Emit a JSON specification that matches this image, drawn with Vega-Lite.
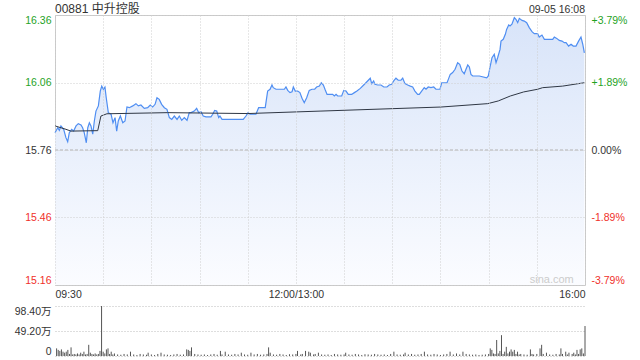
{
  "$schema": "https://vega.github.io/schema/vega-lite/v6.json",
  "background": "#ffffff",
  "padding": {"left": 4, "top": 2, "right": 13, "bottom": 4},
  "autosize": {"type": "pad"},
  "spacing": 4,
  "config": {
    "font": "Arial, Liberation Sans, Noto Sans CJK SC, sans-serif",
    "view": {"stroke": "#c8c8c8"},
    "axis": {"labelColor": "#333333", "labelFontSize": 10.5}
  },
  "datasets": {
    "price": [
      {"m":0,"p":15.837},{"m":1.7,"p":15.859},{"m":2.7,"p":15.847},{"m":3.7,"p":15.867},{"m":5.4,"p":15.852},{"m":6.8,"p":15.815},{"m":7.9,"p":15.797},{"m":8.9,"p":15.837},{"m":10.4,"p":15.852},{"m":11.6,"p":15.844},{"m":13.1,"p":15.867},{"m":14.5,"p":15.877},{"m":16.2,"p":15.871},{"m":17.2,"p":15.859},{"m":18.2,"p":15.837},{"m":19.5,"p":15.792},{"m":20.4,"p":15.859},{"m":21.4,"p":15.881},{"m":22.4,"p":15.867},{"m":23.5,"p":15.83},{"m":24.5,"p":15.889},{"m":25.5,"p":15.933},{"m":27.0,"p":15.956},{"m":28.2,"p":16.022},{"m":29.1,"p":16.044},{"m":30.1,"p":16.03},{"m":31.1,"p":16.04},{"m":31.9,"p":15.992},{"m":33.2,"p":15.926},{"m":34.9,"p":15.919},{"m":36.1,"p":15.881},{"m":37.4,"p":15.904},{"m":38.4,"p":15.844},{"m":39.4,"p":15.889},{"m":40.7,"p":15.911},{"m":42.2,"p":15.881},{"m":43.6,"p":15.889},{"m":44.8,"p":15.951},{"m":46.3,"p":15.948},{"m":48.4,"p":15.956},{"m":50.4,"p":15.966},{"m":51.9,"p":15.956},{"m":53.5,"p":15.96},{"m":55.6,"p":15.945},{"m":57.7,"p":15.948},{"m":59.3,"p":15.96},{"m":60.8,"p":15.951},{"m":62.3,"p":15.963},{"m":63.5,"p":15.992},{"m":64.9,"p":15.985},{"m":66.4,"p":15.963},{"m":68.1,"p":15.948},{"m":69.7,"p":15.941},{"m":71.2,"p":15.904},{"m":72.7,"p":15.896},{"m":74.3,"p":15.911},{"m":76.0,"p":15.896},{"m":77.4,"p":15.911},{"m":78.9,"p":15.892},{"m":80.5,"p":15.904},{"m":82.2,"p":15.892},{"m":83.6,"p":15.926},{"m":84.7,"p":15.926},{"m":86.7,"p":15.933},{"m":88.2,"p":15.945},{"m":89.5,"p":15.926},{"m":90.9,"p":15.93},{"m":92.3,"p":15.911},{"m":94.0,"p":15.907},{"m":97.1,"p":15.907},{"m":98.2,"p":15.919},{"m":99.4,"p":15.936},{"m":100.7,"p":15.933},{"m":101.9,"p":15.904},{"m":102.7,"p":15.911},{"m":104.0,"p":15.896},{"m":108.5,"p":15.896},{"m":117.2,"p":15.896},{"m":118.9,"p":15.911},{"m":120.2,"p":15.926},{"m":121.4,"p":15.919},{"m":125.1,"p":15.919},{"m":126.8,"p":15.948},{"m":130.9,"p":15.948},{"m":132.4,"p":16.022},{"m":133.9,"p":16.03},{"m":135.1,"p":16.049},{"m":135.9,"p":16.037},{"m":137.6,"p":16.03},{"m":142.8,"p":16.03},{"m":143.8,"p":16.04},{"m":144.9,"p":16.025},{"m":146.3,"p":16.015},{"m":147.6,"p":16.019},{"m":148.4,"p":16.04},{"m":149.6,"p":16.022},{"m":151.1,"p":16.022},{"m":152.5,"p":16.015},{"m":153.8,"p":15.99},{"m":155.2,"p":15.97},{"m":156.7,"p":15.992},{"m":158.3,"p":16.025},{"m":160.0,"p":16.03},{"m":161.7,"p":16.03},{"m":162.9,"p":16.04},{"m":164.6,"p":16.044},{"m":165.8,"p":16.059},{"m":167.1,"p":16.049},{"m":168.1,"p":16.03},{"m":169.4,"p":16.007},{"m":172.9,"p":16.007},{"m":173.9,"p":16.0},{"m":175.0,"p":16.007},{"m":176.0,"p":16.0},{"m":178.5,"p":16.0},{"m":179.8,"p":16.025},{"m":181.2,"p":16.022},{"m":182.6,"p":16.007},{"m":184.7,"p":16.007},{"m":186.4,"p":16.015},{"m":188.0,"p":16.022},{"m":190.1,"p":16.034},{"m":192.2,"p":16.049},{"m":193.6,"p":16.059},{"m":195.1,"p":16.07},{"m":196.3,"p":16.079},{"m":197.2,"p":16.055},{"m":198.4,"p":16.067},{"m":199.2,"p":16.052},{"m":200.9,"p":16.049},{"m":203.0,"p":16.049},{"m":204.7,"p":16.04},{"m":206.7,"p":16.04},{"m":208.1,"p":16.049},{"m":209.6,"p":16.052},{"m":210.9,"p":16.067},{"m":212.3,"p":16.079},{"m":213.7,"p":16.07},{"m":215.4,"p":16.07},{"m":216.5,"p":16.079},{"m":217.9,"p":16.055},{"m":219.6,"p":16.049},{"m":221.2,"p":16.044},{"m":222.7,"p":16.04},{"m":224.1,"p":16.022},{"m":225.8,"p":16.007},{"m":226.8,"p":16.007},{"m":228.3,"p":16.022},{"m":229.9,"p":16.037},{"m":231.0,"p":16.03},{"m":232.4,"p":16.04},{"m":234.1,"p":16.037},{"m":235.8,"p":16.04},{"m":237.2,"p":16.03},{"m":239.7,"p":16.03},{"m":240.8,"p":16.059},{"m":244.1,"p":16.059},{"m":244.9,"p":16.074},{"m":246.1,"p":16.096},{"m":247.6,"p":16.104},{"m":249.1,"p":16.119},{"m":250.7,"p":16.148},{"m":252.0,"p":16.141},{"m":253.4,"p":16.111},{"m":254.8,"p":16.099},{"m":255.9,"p":16.119},{"m":257.0,"p":16.138},{"m":258.0,"p":16.129},{"m":259.0,"p":16.096},{"m":260.1,"p":16.089},{"m":264.2,"p":16.089},{"m":268.8,"p":16.081},{"m":269.8,"p":16.089},{"m":270.8,"p":16.126},{"m":272.1,"p":16.17},{"m":273.5,"p":16.185},{"m":274.6,"p":16.148},{"m":275.6,"p":16.17},{"m":277.1,"p":16.207},{"m":277.7,"p":16.244},{"m":279.1,"p":16.252},{"m":280.4,"p":16.274},{"m":281.2,"p":16.296},{"m":282.5,"p":16.316},{"m":283.3,"p":16.311},{"m":284.5,"p":16.319},{"m":286.0,"p":16.348},{"m":287.0,"p":16.341},{"m":288.1,"p":16.326},{"m":289.1,"p":16.345},{"m":290.8,"p":16.336},{"m":292.2,"p":16.333},{"m":293.7,"p":16.326},{"m":295.3,"p":16.304},{"m":297.0,"p":16.286},{"m":298.4,"p":16.277},{"m":300.5,"p":16.277},{"m":301.5,"p":16.262},{"m":303.2,"p":16.271},{"m":304.7,"p":16.252},{"m":309.9,"p":16.252},{"m":310.9,"p":16.262},{"m":312.4,"p":16.256},{"m":314.0,"p":16.247},{"m":315.7,"p":16.244},{"m":317.1,"p":16.237},{"m":318.2,"p":16.237},{"m":319.8,"p":16.222},{"m":321.3,"p":16.23},{"m":322.7,"p":16.222},{"m":324.4,"p":16.222},{"m":326.0,"p":16.244},{"m":327.5,"p":16.262},{"m":328.6,"p":16.23},{"m":329.6,"p":16.192}
    ],
    "avg": [
      {"m":0,"a":15.867},{"m":6.8,"a":15.852},{"m":9.9,"a":15.844},{"m":26.6,"a":15.846},{"m":28.6,"a":15.911},{"m":32.3,"a":15.921},{"m":70.1,"a":15.926},{"m":120,"a":15.922},{"m":165.6,"a":15.933},{"m":240.4,"a":15.951},{"m":269.4,"a":15.966},{"m":276,"a":15.978},{"m":283.5,"a":16.0},{"m":291.8,"a":16.018},{"m":300.5,"a":16.03},{"m":303.6,"a":16.037},{"m":316.1,"a":16.044},{"m":329.6,"a":16.059}
    ],
    "vol": [
      {"m":1,"v":15},{"m":2,"v":12},{"m":3,"v":10},{"m":4,"v":13},{"m":5,"v":8.5},{"m":6,"v":6.5},{"m":7,"v":8.5},{"m":8,"v":12},{"m":9,"v":4},{"m":10,"v":17},{"m":11,"v":3},{"m":12,"v":4},{"m":13,"v":3},{"m":14,"v":5},{"m":15,"v":3},{"m":16,"v":6.5},{"m":17,"v":4},{"m":18,"v":8.5},{"m":19,"v":3},{"m":20,"v":4},{"m":21,"v":22},{"m":22,"v":6.5},{"m":23,"v":4},{"m":24,"v":3},{"m":25,"v":5},{"m":26,"v":3},{"m":27,"v":4},{"m":28,"v":10},{"m":29,"v":98.4},{"m":30,"v":8.5},{"m":31,"v":5},{"m":32,"v":13},{"m":33,"v":15},{"m":34,"v":4},{"m":35,"v":8.5},{"m":36,"v":3},{"m":37,"v":5},
      {"m":39,"v":3},{"m":41,"v":2.5},{"m":43,"v":4},{"m":45,"v":3},{"m":47,"v":8.5},{"m":49,"v":3},{"m":51,"v":2},{"m":53,"v":4},{"m":55,"v":3},{"m":57,"v":2.5},{"m":58,"v":6.5},{"m":60,"v":3},{"m":62,"v":2},{"m":64,"v":4},{"m":66,"v":6.5},{"m":68,"v":3},{"m":70,"v":2.5},{"m":72,"v":2},{"m":74,"v":3},{"m":76,"v":4},{"m":78,"v":2.5},{"m":80,"v":3},{"m":82,"v":13},{"m":83,"v":12},{"m":84,"v":10},{"m":85,"v":17},{"m":87,"v":4},{"m":89,"v":3},{"m":91,"v":2.5},{"m":93,"v":3},{"m":95,"v":2},{"m":97,"v":3},{"m":99,"v":4},{"m":101,"v":2.5},{"m":103,"v":10},{"m":104,"v":3},{"m":106,"v":8.5},{"m":108,"v":3},{"m":110,"v":2.5},{"m":112,"v":4},{"m":114,"v":3},{"m":116,"v":6.5},{"m":118,"v":3},{"m":120,"v":2.5},{"m":122,"v":6.5},{"m":124,"v":3},{"m":126,"v":4},{"m":128,"v":2.5},{"m":130,"v":3},{"m":132,"v":4},{"m":133,"v":17},{"m":134,"v":6.5},{"m":136,"v":3},{"m":138,"v":2.5},{"m":140,"v":4},{"m":142,"v":3},{"m":144,"v":2},{"m":146,"v":3.5},{"m":148,"v":3},{"m":150,"v":4},{"m":151,"v":10},{"m":153,"v":3},{"m":154,"v":4},{"m":156,"v":10},{"m":158,"v":8.5},{"m":159,"v":6.5},{"m":161,"v":3},{"m":162,"v":4},{"m":164,"v":6.5},{"m":166,"v":3},{"m":168,"v":2.5},{"m":170,"v":3},{"m":172,"v":2},{"m":174,"v":4},{"m":176,"v":3},{"m":178,"v":2.5},{"m":180,"v":3},{"m":181,"v":6.5},{"m":183,"v":3},{"m":185,"v":2.5},{"m":187,"v":4},{"m":189,"v":3},{"m":191,"v":2},{"m":193,"v":3.5},{"m":195,"v":3},{"m":197,"v":2.5},{"m":199,"v":4},{"m":201,"v":3},{"m":203,"v":2.5},{"m":205,"v":3},{"m":207,"v":2},{"m":209,"v":4},{"m":211,"v":8.5},{"m":213,"v":3},{"m":215,"v":2.5},{"m":217,"v":3},{"m":218,"v":6.5},{"m":220,"v":3},{"m":222,"v":4},{"m":224,"v":2.5},{"m":226,"v":3},{"m":228,"v":4},{"m":230,"v":8.5},{"m":232,"v":3},{"m":234,"v":2.5},{"m":236,"v":4},{"m":238,"v":3},{"m":240,"v":2},{"m":242,"v":3},{"m":244,"v":4},{"m":246,"v":8.5},{"m":248,"v":3},{"m":250,"v":5},{"m":252,"v":3},{"m":254,"v":8.5},{"m":256,"v":4},{"m":258,"v":3},{"m":260,"v":2.5},{"m":262,"v":3},{"m":264,"v":2},{"m":266,"v":2.5},{"m":268,"v":3},{"m":270,"v":4},{"m":271,"v":15},{"m":272,"v":12},{"m":273,"v":5},{"m":274,"v":4},{"m":275,"v":31.5},{"m":276,"v":5},{"m":277,"v":10},{"m":278,"v":41},{"m":279,"v":4},{"m":280,"v":8.5},{"m":281,"v":18},{"m":282,"v":5},{"m":283,"v":8.5},{"m":284,"v":13},{"m":285,"v":8.5},{"m":286,"v":12},{"m":287,"v":4},{"m":288,"v":8.5},{"m":289,"v":3},{"m":290,"v":4},{"m":292,"v":3},{"m":294,"v":2.5},{"m":296,"v":13},{"m":297,"v":4},{"m":298,"v":3},{"m":300,"v":4},{"m":302,"v":15},{"m":303,"v":22},{"m":304,"v":4},{"m":306,"v":6.5},{"m":308,"v":3},{"m":310,"v":2.5},{"m":312,"v":4},{"m":314,"v":3},{"m":315,"v":15},{"m":316,"v":4},{"m":318,"v":8.5},{"m":319,"v":3},{"m":320,"v":6.5},{"m":322,"v":4},{"m":323,"v":6.5},{"m":324,"v":3},{"m":325,"v":12},{"m":326,"v":4},{"m":327,"v":13},{"m":328,"v":15},{"m":329,"v":5},{"m":330,"v":59}
    ]
  },
  "vconcat": [
    {
      "width": 530,
      "height": 270,
      "layer": [
        {
          "layer": [
            {
              "data": {"name": "price"},
              "mark": {"type": "area", "color": {"gradient": "linear", "x1": 0, "y1": 0, "x2": 0, "y2": 1, "stops": [{"offset": 0, "color": "#d8e4f9"}, {"offset": 1, "color": "#fbfcff"}]}},
              "encoding": {
                "x": {"field": "m", "type": "quantitative", "scale": {"domain": [0, 330], "nice": false, "zero": false},
                  "axis": {"values": [0,30,60,90,120,150,180,210,240,270,300,330], "labelExpr": "datum.value == 0 ? '09:30' : datum.value == 150 ? '12:00/13:00' : datum.value == 330 ? '16:00' : ''", "labelFlush": true, "labelOverlap": false, "ticks": false, "domain": false, "title": null, "grid": true, "gridDash": [1, 2], "gridColor": "#cfcfcf", "labelPadding": 4, "minExtent": 15, "maxExtent": 15, "zindex": 1}},
                "y": {"field": "p", "type": "quantitative", "scale": {"domain": [15.16, 16.36], "nice": false, "zero": false},
                  "axis": {"values": [15.16, 15.46, 15.76, 16.06, 16.36], "format": ".2f", "title": null, "ticks": false, "domain": false, "labelFlush": true, "labelOverlap": false, "labelPadding": 4, "grid": true, "gridDash": [1, 2], "gridColor": "#cfcfcf", "minExtent": 50, "maxExtent": 50, "zindex": 1,
                    "labelColor": {"condition": [{"test": "datum.value > 15.77", "value": "#1fa31f"}, {"test": "datum.value < 15.75", "value": "#f0302a"}], "value": "#333333"}}},
                "y2": {"datum": 15.16}
              }
            },
            {
              "data": {"name": "price"},
              "mark": {"type": "line", "color": "#4f8ef2", "strokeWidth": 1.2},
              "encoding": {
                "x": {"field": "m", "type": "quantitative"},
                "y": {"field": "p", "type": "quantitative"}
              }
            },
            {
              "data": {"values": [{"label": "previous close", "lv": 15.76, "x0": 0, "x1": 330}]},
              "mark": {"type": "rule", "color": "#b0b0b0", "strokeDash": [3, 2], "strokeWidth": 1},
              "encoding": {"x": {"field": "x0", "type": "quantitative"}, "x2": {"field": "x1"}, "y": {"field": "lv", "type": "quantitative"}}
            },
            {
              "data": {"values": [{"label": "00881 中升控股", "tx": 0, "ty": 16.36}]},
              "mark": {"type": "text", "align": "left", "baseline": "alphabetic", "dy": -2, "fontSize": 12, "color": "#333333"},
              "encoding": {"x": {"field": "tx", "type": "quantitative"}, "y": {"field": "ty", "type": "quantitative"}, "text": {"field": "label"}}
            },
            {
              "data": {"values": [{"label": "09-05 16:08", "tx": 330, "ty": 16.36}]},
              "mark": {"type": "text", "align": "right", "baseline": "alphabetic", "dy": -2, "fontSize": 10.5, "color": "#333333"},
              "encoding": {"x": {"field": "tx", "type": "quantitative"}, "y": {"field": "ty", "type": "quantitative"}, "text": {"field": "label"}}
            },
            {
              "data": {"values": [{"label": "sina.com", "tx": 323, "ty": 15.16}]},
              "mark": {"type": "text", "align": "right", "baseline": "alphabetic", "dy": -2, "fontSize": 11, "color": "#cccccc"},
              "encoding": {"x": {"field": "tx", "type": "quantitative"}, "y": {"field": "ty", "type": "quantitative"}, "text": {"field": "label"}}
            }
          ]
        },
        {
          "data": {"name": "avg"},
          "mark": {"type": "line", "color": "#2f3744", "strokeWidth": 1},
          "encoding": {
            "x": {"field": "m", "type": "quantitative"},
            "y": {"field": "a", "type": "quantitative", "scale": {"domain": [15.16, 16.36], "nice": false, "zero": false},
              "axis": {"orient": "right", "values": [15.16, 15.46, 15.76, 16.06, 16.36], "labelExpr": "datum.value > 16.2 ? '+3.79%' : datum.value > 16 ? '+1.89%' : datum.value > 15.7 ? '0.00%' : datum.value > 15.4 ? '-1.89%' : '-3.79%'", "title": null, "ticks": false, "domain": false, "grid": false, "labelFlush": true, "labelOverlap": false, "labelPadding": 6, "minExtent": 43, "maxExtent": 43,
                "labelColor": {"condition": [{"test": "datum.value > 15.77", "value": "#1fa31f"}, {"test": "datum.value < 15.75", "value": "#f0302a"}], "value": "#333333"}}}
          }
        }
      ],
      "resolve": {"scale": {"y": "independent"}, "axis": {"y": "independent"}}
    },
    {
      "width": 530,
      "height": 50,
      "view": {"stroke": null},
      "data": {"name": "vol"},
      "mark": {"type": "rule", "color": "#555555", "strokeWidth": 1},
      "encoding": {
        "x": {"field": "m", "type": "quantitative", "scale": {"domain": [0, 330], "nice": false, "zero": false}, "axis": null},
        "y": {"field": "v", "type": "quantitative", "scale": {"domain": [0, 98.4], "nice": false},
          "axis": {"values": [0, 49.2, 98.4], "labelExpr": "datum.value == 0 ? '0' : format(datum.value, '.2f') + '万'", "title": null, "ticks": false, "domain": false, "labelFlush": true, "labelOverlap": false, "labelPadding": 4, "grid": true, "gridDash": [1, 2], "gridColor": "#bdbdbd", "minExtent": 50, "maxExtent": 50}},
        "y2": {"datum": 0}
      }
    }
  ],
  "resolve": {"scale": {"x": "independent", "y": "independent"}}
}
